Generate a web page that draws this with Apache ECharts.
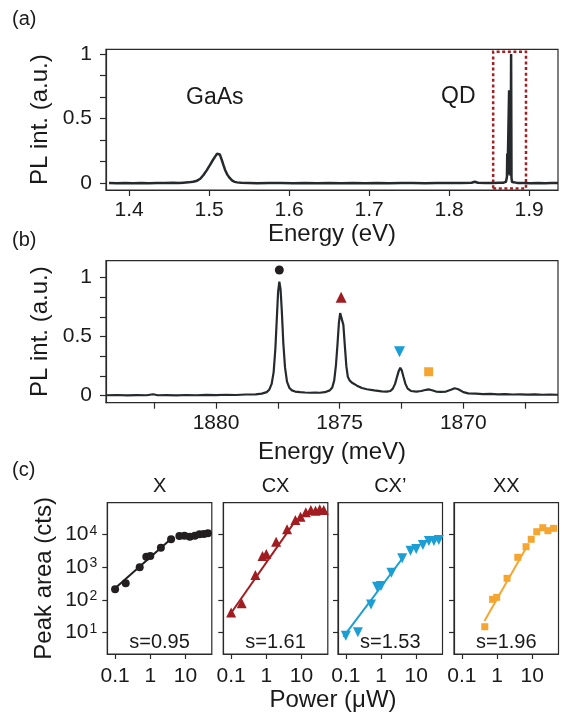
<!DOCTYPE html>
<html>
<head>
<meta charset="utf-8">
<script src="https://cdn.jsdelivr.net/npm/echarts@6.0.0/dist/echarts.min.js"></script>
<style>
  html, body { margin: 0; padding: 0; background: #fff; }
  #main { width: 561px; height: 713px; }
</style>
</head>
<body>
<div id="main"></div>
<script>
// (a) wide range PL spectrum [eV, norm. intensity]
var spectrumA = [
  [1.375,0.002],[1.385,0.000],[1.395,0.003],[1.405,0.001],[1.415,0.002],[1.425,0.000],[1.435,0.003],[1.445,0.002],
  [1.455,0.004],[1.462,0.003],[1.468,0.005],[1.474,0.007],[1.480,0.012],[1.485,0.02],[1.489,0.035],[1.493,0.064],
  [1.497,0.10],[1.501,0.14],[1.504,0.172],[1.5075,0.206],[1.510,0.228],[1.5116,0.237],[1.5135,0.222],[1.5159,0.18],
  [1.518,0.14],[1.520,0.103],[1.523,0.065],[1.526,0.039],[1.529,0.02],[1.532,0.011],[1.535,0.007],[1.540,0.004],
  [1.550,0.003],[1.560,0.001],[1.575,0.003],[1.590,0.002],[1.605,0.000],[1.620,0.002],[1.635,0.001],[1.650,0.003],
  [1.665,0.001],[1.680,0.002],[1.695,0.000],[1.710,0.002],[1.725,0.001],[1.740,0.003],[1.755,0.002],[1.770,0.001],
  [1.785,0.003],[1.800,0.002],[1.815,0.003],[1.828,0.004],[1.832,0.012],[1.836,0.004],[1.845,0.003],[1.855,0.002],
  [1.862,0.004],[1.868,0.005],[1.871,0.012],[1.8722,0.05],[1.8726,0.23],[1.8730,0.06],[1.8745,0.055],[1.8749,0.72],
  [1.8753,0.1],[1.8768,0.06],[1.8774,1.0],[1.8779,0.04],[1.8786,0.01],[1.880,0.000],[1.885,0.003],[1.893,0.002],
  [1.902,0.001],[1.911,0.003],[1.920,0.001],[1.928,0.002],[1.936,0.002]
];
var qdBox = [1.855, -0.04, 1.896, 1.018]; // dotted frame: x0, y0, x1, y1

// (b) QD spectrum [meV, norm. intensity]
var spectrumB = [
  [1884.45,0.004],[1884.0,0.006],[1883.6,0.003],[1883.2,0.005],[1882.8,0.004],[1882.55,0.012],[1882.35,0.004],
  [1882.0,0.005],[1881.6,0.003],[1881.2,0.006],[1880.8,0.004],[1880.4,0.007],[1880.0,0.005],[1879.6,0.008],
  [1879.2,0.006],[1878.8,0.01],[1878.4,0.012],[1878.15,0.018],[1877.95,0.03],[1877.85,0.05],[1877.75,0.10],
  [1877.67,0.2],[1877.60,0.4],[1877.54,0.66],[1877.49,0.88],[1877.44,0.966],[1877.39,0.90],[1877.34,0.72],
  [1877.28,0.45],[1877.21,0.24],[1877.13,0.12],[1877.03,0.065],[1876.93,0.045],[1876.8,0.035],[1876.6,0.03],
  [1876.4,0.027],[1876.2,0.025],[1876.0,0.026],[1875.8,0.025],[1875.6,0.03],[1875.4,0.045],[1875.30,0.07],
  [1875.22,0.13],[1875.15,0.26],[1875.09,0.43],[1875.03,0.62],[1874.98,0.70],[1874.94,0.712],[1874.90,0.69],
  [1874.85,0.60],[1874.79,0.42],[1874.73,0.25],[1874.67,0.16],[1874.6,0.13],[1874.5,0.11],[1874.3,0.085],
  [1874.1,0.065],[1873.9,0.055],[1873.6,0.045],[1873.3,0.036],[1873.1,0.034],[1872.95,0.04],[1872.85,0.06],
  [1872.76,0.10],[1872.68,0.16],[1872.61,0.21],[1872.55,0.237],[1872.49,0.215],[1872.42,0.16],[1872.34,0.10],
  [1872.25,0.06],[1872.12,0.04],[1871.9,0.035],[1871.7,0.04],[1871.5,0.05],[1871.4,0.054],[1871.3,0.048],
  [1871.1,0.035],[1870.9,0.032],[1870.7,0.035],[1870.5,0.05],[1870.35,0.063],[1870.2,0.055],[1870.0,0.03],
  [1869.8,0.02],[1869.5,0.018],[1869.2,0.013],[1868.9,0.015],[1868.6,0.012],[1868.3,0.014],[1868.0,0.01],
  [1867.7,0.012],[1867.4,0.009],[1867.1,0.011],[1866.8,0.008],[1866.5,0.01],[1866.17,0.008]
];
// line markers above the peaks
var markX = [[1877.44, 1.065]];
var markCX = [[1874.94, 0.834]];
var markCXp = [[1872.58, 0.373]];
var markXX = [[1871.40, 0.203]];

// (c) power dependence
var powerX = [0.1, 0.2, 0.5, 0.77, 1.0, 2.0, 3.9, 6.7, 9.4, 13.3, 18.5, 25, 33.4, 43.4];
var areaX  = [210, 320, 990, 2070, 2180, 3900, 7050, 8870, 9070, 8450, 9070, 10000, 10200, 10700];
var powerCX = [0.1, 0.2, 0.49, 0.78, 1.0, 1.9, 3.9, 6.7, 9.4, 13.3, 18.5, 25, 33, 43];
var areaCX  = [41, 79, 574, 2180, 2510, 5940, 14200, 27300, 34400, 47000, 55000, 52500, 57800, 55000];
var powerCXp = [0.1, 0.22, 0.52, 0.77, 1.0, 1.97, 4.0, 6.9, 10, 15.5, 23, 32, 44];
var areaCXp  = [8.1, 10.3, 73, 252, 265, 675, 1850, 3160, 3560, 4720, 6250, 6250, 6700];
var powerXX = [0.45, 0.75, 0.98, 1.93, 3.9, 6.7, 9.4, 13.5, 20, 28, 40.6];
var areaXX  = [15.2, 104, 120, 456, 1990, 4190, 7050, 12000, 15900, 12900, 15200];
var fitX   = [[0.1, 225], [4, 7400]];
var fitCX  = [[0.1, 40], [6.4, 24000]];
var fitCXp = [[0.085, 7.5], [4.4, 2070]];
var fitXX  = [[0.44, 22.7], [7.5, 4720]];
var panelNames = ['X', 'CX', 'CX\u2019', 'XX'];
var slopes = ['s=0.95', 's=1.61', 's=1.53', 's=1.96'];

var eVTicks = [1.4, 1.5, 1.6, 1.7, 1.8, 1.9];
var meVTicks = [1867.5, 1870, 1872.5, 1875, 1877.5, 1880, 1882.5];
var meVLabels = [1870, 1875, 1880];
var intTicks = [0, 1/6, 2/6, 0.5, 4/6, 5/6, 1];
var intLabels = [0, 0.5, 1];
var powerTicks = [0.1, 1, 10];
var areaTicks = [10, 100, 1000, 10000];

var FONT = '"Liberation Sans", Arial, Helvetica, sans-serif';
var INK = '#1a1a1a';
var FRAME = '#2a2a2a';
var cLeft = [107.3, 223.3, 338, 454];
var cWidth = 104.5;
var colors = ['#231f20', '#a11d21', '#1a9ed4', '#f5a630'];
var symbols = ['circle', 'triangle', 'triangle', 'rect'];

function pairs(xs, ys) {
  return xs.map(function (x, i) { return [x, ys[i]]; });
}

function baseAxis(extra) {
  var ax = {
    axisLine: { show: true, onZero: false, lineStyle: { color: FRAME, width: 1.2 } },
    axisTick: { show: true, inside: false, length: 6, lineStyle: { color: FRAME, width: 1.2 } },
    axisLabel: { color: INK, fontSize: 21, fontFamily: FONT },
    splitLine: { show: false },
    nameTextStyle: { color: INK, fontSize: 24, fontFamily: FONT },
    nameLocation: 'middle'
  };
  for (var k in extra) {
    if (typeof extra[k] === 'object' && ax[k] && !Array.isArray(extra[k])) {
      ax[k] = Object.assign({}, ax[k], extra[k]);
    } else {
      ax[k] = extra[k];
    }
  }
  return ax;
}

var grids = [
  { left: 106, top: 49.3, width: 452, height: 140.7 },
  { left: 106, top: 260.7, width: 452, height: 142 }
];
cLeft.forEach(function (l) { grids.push({ left: l, top: 502.7, width: cWidth, height: 151.3 }); });
grids.forEach(function (g) {
  g.show = true; g.borderColor = FRAME; g.borderWidth = 1.2; g.backgroundColor = 'transparent';
  g.containLabel = false;
});

var xAxes = [
  baseAxis({ gridIndex: 0, type: 'value', min: 1.3712, max: 1.936,
    axisTick: { customValues: eVTicks },
    axisLabel: { customValues: eVTicks, margin: 10, formatter: function (v) { return v.toFixed(1); } },
    name: 'Energy (eV)', nameGap: 31 }),
  baseAxis({ gridIndex: 1, type: 'value', min: 1866.17, max: 1884.45, inverse: true,
    axisTick: { customValues: meVTicks },
    axisLabel: { customValues: meVLabels, margin: 10, formatter: function (v) { return String(Math.round(v)); } },
    name: 'Energy (meV)', nameGap: 38 })
];
var yAxes = [
  baseAxis({ gridIndex: 0, type: 'value', min: -0.052, max: 1.036,
    axisTick: { customValues: intTicks },
    axisLabel: { customValues: intLabels, margin: 14 },
    name: 'PL int. (a.u.)', nameGap: 50 }),
  baseAxis({ gridIndex: 1, type: 'value', min: -0.0593, max: 1.144,
    axisTick: { customValues: intTicks },
    axisLabel: { customValues: intLabels, margin: 14 },
    name: 'PL int. (a.u.)', nameGap: 50 })
];
cLeft.forEach(function (l, i) {
  xAxes.push(baseAxis({ gridIndex: 2 + i, type: 'log', min: 0.06, max: 56,
    axisTick: { customValues: powerTicks, length: 5 },
    axisLabel: { customValues: powerTicks, margin: 12,
      formatter: function (v) { return v < 0.5 ? '0.1' : (v < 5 ? '1' : '10'); } } }));
  var y = baseAxis({ gridIndex: 2 + i, type: 'log', min: 2.24, max: 92000,
    axisTick: { customValues: areaTicks, length: 5 },
    axisLabel: { show: i === 0, customValues: areaTicks, margin: 10,
      formatter: function (v) { return '{b|10}{s|' + Math.round(Math.log10(v)) + '}'; },
      rich: {
        b: { fontSize: 21, fontFamily: FONT, color: INK, lineHeight: 21, verticalAlign: 'bottom' },
        s: { fontSize: 14, fontFamily: FONT, color: INK, lineHeight: 14, verticalAlign: 'top', padding: [0, 0, 16, 1] }
      } } });
  if (i === 0) { y.name = 'Peak area (cts)'; y.nameGap = 51; }
  yAxes.push(y);
});

var series = [
  { type: 'line', xAxisIndex: 0, yAxisIndex: 0, data: spectrumA, symbol: 'none',
    lineStyle: { color: '#262a2c', width: 2.5 }, z: 3,
    markArea: { silent: true,
      itemStyle: { color: 'rgba(0,0,0,0)', borderColor: '#a41e22', borderWidth: 2.5, borderType: [3, 2.6] },
      data: [[{ xAxis: qdBox[0], yAxis: qdBox[1] }, { xAxis: qdBox[2], yAxis: qdBox[3] }]] } },
  { type: 'line', xAxisIndex: 1, yAxisIndex: 1, data: spectrumB, symbol: 'none',
    lineStyle: { color: '#262a2c', width: 2.2 }, z: 3 }
];
[markX, markCX, markCXp, markXX].forEach(function (m, i) {
  series.push({ type: 'scatter', xAxisIndex: 1, yAxisIndex: 1, data: m, symbol: symbols[i],
    symbolRotate: i === 2 ? 180 : 0, symbolSize: i === 0 ? 9 : (i === 3 ? 9 : 11),
    itemStyle: { color: colors[i], opacity: 1 }, silent: true, z: 4 });
});
var fits = [fitX, fitCX, fitCXp, fitXX];
var pts = [pairs(powerX, areaX), pairs(powerCX, areaCX), pairs(powerCXp, areaCXp), pairs(powerXX, areaXX)];
fits.forEach(function (f, i) {
  series.push({ type: 'line', xAxisIndex: 2 + i, yAxisIndex: 2 + i, data: f, symbol: 'none',
    lineStyle: { color: colors[i], width: 2 }, z: 3, silent: true });
  series.push({ type: 'scatter', xAxisIndex: 2 + i, yAxisIndex: 2 + i, data: pts[i], symbol: symbols[i],
    symbolRotate: i === 2 ? 180 : 0, symbolSize: i === 0 ? 8 : (i === 3 ? 7 : 10),
    itemStyle: { color: colors[i], opacity: 1 }, z: 4, silent: true });
});

var graphic = [
  { type: 'text', x: 12, y: 19, style: { text: '(a)', font: '20px ' + FONT, fill: INK, verticalAlign: 'middle' } },
  { type: 'text', x: 12, y: 240, style: { text: '(b)', font: '20px ' + FONT, fill: INK, verticalAlign: 'middle' } },
  { type: 'text', x: 12, y: 470, style: { text: '(c)', font: '20px ' + FONT, fill: INK, verticalAlign: 'middle' } },
  { type: 'text', x: 186, y: 98, style: { text: 'GaAs', font: '23px ' + FONT, fill: INK, verticalAlign: 'middle' } },
  { type: 'text', x: 441, y: 97, style: { text: 'QD', font: '23px ' + FONT, fill: INK, verticalAlign: 'middle' } },
  { type: 'text', x: 333, y: 700, style: { text: 'Power (\u03bcW)', font: '24px ' + FONT, fill: INK, align: 'center', verticalAlign: 'middle' } }
];
cLeft.forEach(function (l, i) {
  var cx = l + cWidth / 2;
  graphic.push({ type: 'text', x: cx, y: 486, style: { text: panelNames[i], font: '20px ' + FONT, fill: INK, align: 'center', verticalAlign: 'middle' } });
  graphic.push({ type: 'text', x: cx, y: 642.5, style: { text: slopes[i], font: '20px ' + FONT, fill: INK, align: 'center', verticalAlign: 'middle' } });
});

var chart = echarts.init(document.getElementById('main'), null, { renderer: 'canvas' });
chart.setOption({
  animation: false,
  backgroundColor: '#fff',
  grid: grids,
  xAxis: xAxes,
  yAxis: yAxes,
  series: series,
  graphic: graphic
});
</script>
</body>
</html>
